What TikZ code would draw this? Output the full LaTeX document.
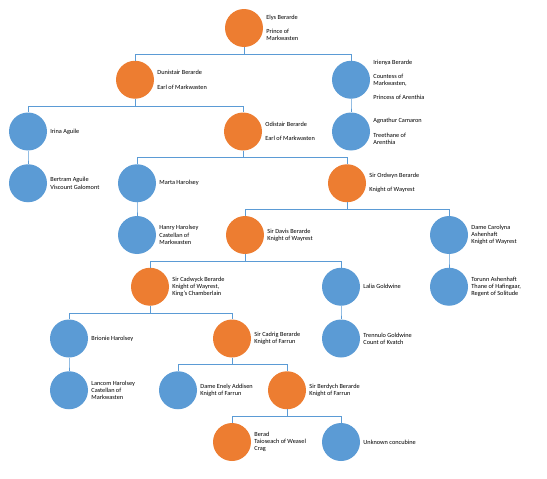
\documentclass[tikz,border=0pt]{standalone}
\usepackage{fontspec}
\setmainfont{Carlito}
\usetikzlibrary{positioning}
\definecolor{heirorange}{HTML}{ED7D31}
\definecolor{kinblue}{HTML}{5B9BD5}

\begin{document}
\begin{tikzpicture}[
    x=1pt, y=-1pt,
    % 1. People (orange = Berarde line, blue = kin and spouses)
    heir/.style={circle, fill=heirorange, minimum size=38pt, inner sep=0pt},
    kin/.style={circle, fill=kinblue, minimum size=38pt, inner sep=0pt},
    info/.style={font=\fontsize{6.3}{7.2}\selectfont, align=left, inner sep=0pt},
    % 2. Lineage lines
    link/.style={draw=kinblue, line width=0.9pt}
]
\useasboundingbox (0,0) rectangle (547,479);

% ===============================
% Generations, top to bottom
% ===============================
\node[heir] (elys) at (244,28) {};
\node[info, right=3pt of elys] {Elys Berarde\\[7pt]Prince of\\Markwasten};

\node[heir] (dunistair) at (135,79.75) {};
\node[info, right=3pt of dunistair] {Dunistair Berarde\\[7pt]Earl of Markwasten};
\node[kin] (irienya) at (351,79.75) {};
\node[info, right=3pt of irienya] {Irienya Berarde\\[7pt]Countess of\\Markwasten,\\[7pt]Princess of Arenthia};

\node[kin] (irina) at (28,131.5) {};
\node[info, right=3pt of irina] {Irina Aguile};
\node[heir] (odistair) at (243,131.5) {};
\node[info, right=3pt of odistair] {Odistair Berarde\\[7pt]Earl of Markwasten};
\node[kin] (agnathur) at (351,131.5) {};
\node[info, right=3pt of agnathur] {Agnathur Camaron\\[7pt]Treethane of\\Arenthia};

\node[kin] (bertram) at (28,183.25) {};
\node[info, right=3pt of bertram] {Bertram Aguile\\Viscount Galomont};
\node[kin] (marta) at (137,183.25) {};
\node[info, right=3pt of marta] {Marta Harolsey};
\node[heir] (ordwyn) at (347,183.25) {};
\node[info, right=3pt of ordwyn] {Sir Ordwyn Berarde\\[7pt]Knight of Wayrest};

\node[kin] (henry) at (137,235) {};
\node[info, right=3pt of henry] {Hanry Harolsey\\Castellan of\\Markwasten};
\node[heir] (davis) at (245,235) {};
\node[info, right=3pt of davis] {Sir Davis Berarde\\Knight of Wayrest};
\node[kin] (carolyna) at (449,235) {};
\node[info, right=3pt of carolyna] {Dame Carolyna\\Ashenhaft\\Knight of Wayrest};

\node[heir] (cadwyck) at (150,286.75) {};
\node[info, right=3pt of cadwyck] {Sir Cadwyck Berarde\\Knight of Wayrest,\\King’s Chamberlain};
\node[kin] (lalia) at (341,286.75) {};
\node[info, right=3pt of lalia] {Lalia Goldwine};
\node[kin] (torunn) at (449,286.75) {};
\node[info, right=3pt of torunn] {Torunn Ashenhaft\\Thane of Hafingaar,\\Regent of Solitude};

\node[kin] (brionie) at (69,338.5) {};
\node[info, right=3pt of brionie] {Brionie Harolsey};
\node[heir] (cadrig) at (232,338.5) {};
\node[info, right=3pt of cadrig] {Sir Cadrig Berarde\\Knight of Farrun};
\node[kin] (trennulo) at (341,338.5) {};
\node[info, right=3pt of trennulo] {Trennulo Goldwine\\Count of Kvatch};

\node[kin] (lancom) at (69,390.25) {};
\node[info, right=3pt of lancom] {Lancom Harolsey\\Castellan of\\Markwasten};
\node[kin] (enely) at (178,390.25) {};
\node[info, right=3pt of enely] {Dame Enely Addisen\\Knight of Farrun};
\node[heir] (berdych) at (287,390.25) {};
\node[info, right=3pt of berdych] {Sir Berdych Berarde\\Knight of Farrun};

\node[heir] (berad) at (232,442) {};
\node[info, right=3pt of berad] {Berad\\Taioseach of Weasel\\Crag};
\node[kin] (unknown) at (341,442) {};
\node[info, right=3pt of unknown] {Unknown concubine};

% Lineage lines: parent down to the bus, across, then down to the child
\foreach \parent/\child in {elys/dunistair, elys/irienya, dunistair/irina,
    dunistair/odistair, irienya/agnathur, irina/bertram, odistair/marta,
    odistair/ordwyn, marta/henry, ordwyn/davis, ordwyn/carolyna,
    davis/cadwyck, davis/lalia, carolyna/torunn, cadwyck/brionie,
    cadwyck/cadrig, lalia/trennulo, brionie/lancom, cadrig/enely,
    cadrig/berdych, berdych/berad, berdych/unknown}
    \draw[link] (\parent.south) -- ++(0,7) -| (\child.north);

\end{tikzpicture}
\end{document}
